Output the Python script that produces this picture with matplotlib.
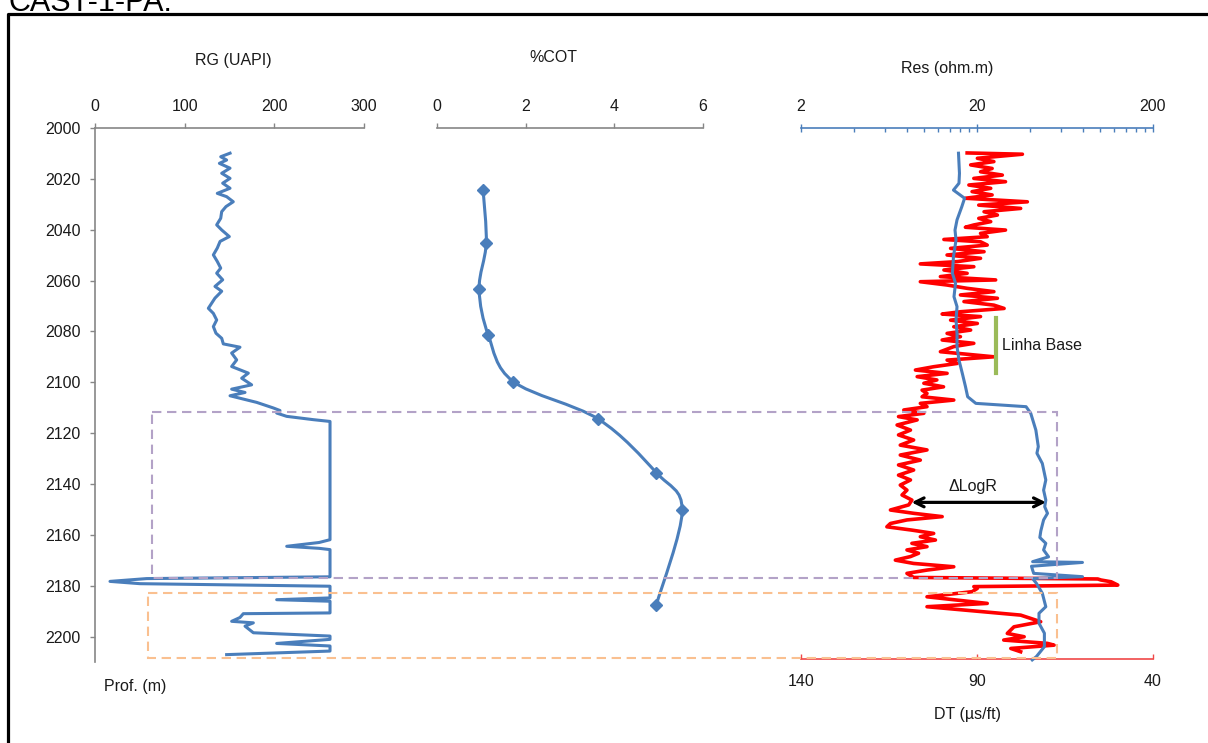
import matplotlib
matplotlib.use("Agg")
import matplotlib.pyplot as plt
from matplotlib.path import Path
from matplotlib.patches import PathPatch, Rectangle
from matplotlib.lines import Line2D
from matplotlib.transforms import blended_transform_factory
from matplotlib.ticker import FixedLocator, FixedFormatter, NullFormatter

plt.rcParams["font.family"] = ["Liberation Sans", "DejaVu Sans"]

# ---------------- data ----------------
# Gamma ray (UAPI) versus depth (m)
rg_depth = [2009.9, 2011.3, 2012.6, 2013.9, 2015.8, 2017.8, 2019.8, 2021.7, 2023.7, 2025.7,
            2027.0, 2029.0, 2030.9, 2032.9, 2035.5, 2038.1, 2040.1, 2042.7, 2044.6, 2047.2,
            2049.9, 2052.5, 2055.1, 2057.1, 2059.7, 2062.3, 2064.2, 2066.9, 2068.9, 2070.9,
            2072.9, 2075.5, 2078.1, 2080.7, 2082.7, 2084.9, 2086.2, 2088.5, 2091.2, 2093.8,
            2096.4, 2098.4, 2101.0, 2102.7, 2104.0, 2105.3, 2106.6, 2107.9, 2110.1, 2111.1,
            2112.1, 2113.4, 2114.7, 2115.4, 2161.9, 2163.0, 2164.5, 2165.3, 2165.8, 2176.5,
            2177.2, 2178.3, 2179.2, 2180.2, 2184.8, 2185.5, 2186.1, 2190.7, 2191.0, 2192.5,
            2194.0, 2194.6, 2195.9, 2198.5, 2199.8, 2201.1, 2202.7, 2203.7, 2205.7, 2207.1]
rg_value = [150.6, 140.2, 146.8, 138.7, 150.6, 141.3, 150.6, 142.4, 150.6, 136.4,
            146.8, 154.2, 146.1, 141.3, 140.2, 135.7, 141.3, 149.8, 139.5, 136.4,
            132.0, 136.4, 140.2, 135.7, 142.4, 133.8, 141.3, 133.8, 130.1, 126.4,
            132.0, 135.7, 132.0, 134.9, 141.3, 143.1, 161.7, 152.4, 158.0, 152.4,
            171.0, 163.6, 174.7, 152.4, 167.3, 150.6, 165.4, 180.3, 198.9, 206.3,
            202.6, 213.8, 243.5, 262.1, 262.1, 250.0, 213.8, 250.0, 262.1, 262.1,
            57.6, 16.7, 50.2, 262.1, 262.1, 202.6, 262.1, 262.1, 165.4, 161.7,
            152.4, 176.6, 167.3, 176.6, 262.1, 262.1, 202.6, 262.1, 262.1, 146.8]

# Total organic carbon (%) from samples
cot_depth = [2024.4, 2045.3, 2063.3, 2081.6, 2099.7, 2114.5, 2135.6, 2150.4, 2187.4]
cot_value = [1.04, 1.11, 0.95, 1.16, 1.72, 3.64, 4.95, 5.53, 4.95]

# Resistivity (ohm.m)
res_depth = [2009.9, 2017.8, 2021.7, 2024.4, 2027.6, 2030.9, 2036.1, 2040.1, 2044.0, 2050.6,
             2057.1, 2061.0, 2066.3, 2070.2, 2075.5, 2080.7, 2085.9, 2091.2, 2096.4, 2101.6,
             2105.6, 2108.2, 2109.5, 2112.1, 2118.7, 2125.2, 2127.8, 2131.8, 2138.3, 2142.3,
             2146.2, 2148.8, 2151.4, 2154.0, 2158.3, 2160.9, 2163.2, 2165.8, 2168.5, 2170.4,
             2170.7, 2172.2, 2173.7, 2175.0, 2176.3, 2177.0, 2177.6, 2178.9, 2182.8, 2188.1,
             2190.7, 2194.6, 2198.5, 2203.8, 2207.7, 2209.0]
res_value = [15.7, 15.9, 15.8, 14.7, 17.0, 16.4, 15.4, 15.0, 15.2, 14.7,
             14.5, 15.1, 14.8, 15.4, 15.2, 15.4, 15.4, 15.8, 16.5, 17.2,
             17.7, 19.7, 38.0, 40.4, 43.2, 44.6, 43.8, 47.0, 49.2, 47.8,
             49.2, 48.5, 50.3, 47.8, 46.1, 45.5, 49.2, 47.8, 51.0, 41.4,
             79.5, 40.8, 41.4, 42.0, 79.5, 41.4, 42.0, 43.5, 47.0, 49.2,
             45.0, 45.0, 48.3, 48.3, 43.5, 41.2]

# Sonic transit time (us/ft)
dt_depth = [2009.8, 2010.3, 2011.9, 2013.2, 2014.5, 2015.9, 2017.2, 2018.5, 2019.8, 2021.1,
            2022.4, 2023.7, 2025.0, 2026.3, 2027.6, 2029.0, 2030.3, 2031.6, 2032.9, 2034.2,
            2035.5, 2036.8, 2038.1, 2039.0, 2040.1, 2041.4, 2042.7, 2043.8, 2044.7, 2046.0,
            2047.3, 2048.6, 2049.9, 2051.2, 2052.5, 2053.4, 2054.5, 2055.8, 2057.1, 2058.4,
            2059.7, 2060.4, 2061.7, 2063.0, 2064.3, 2065.6, 2066.9, 2068.2, 2069.6, 2070.9,
            2072.2, 2073.1, 2074.1, 2075.5, 2076.8, 2078.1, 2079.4, 2080.7, 2082.0, 2083.3,
            2084.6, 2085.9, 2087.9, 2089.9, 2091.2, 2092.5, 2093.8, 2095.1, 2096.4, 2097.7,
            2099.0, 2100.3, 2101.7, 2103.0, 2104.3, 2105.6, 2106.9, 2108.2, 2109.5, 2110.8,
            2112.1, 2113.4, 2114.7, 2116.7, 2118.7, 2120.6, 2122.6, 2124.6, 2126.5, 2128.5,
            2130.5, 2132.4, 2134.4, 2136.4, 2138.3, 2140.3, 2142.3, 2144.2, 2146.2, 2148.1,
            2150.1, 2151.4, 2152.7, 2154.0, 2155.4, 2156.7, 2158.0, 2159.3, 2160.6, 2161.9,
            2163.2, 2164.5, 2165.8, 2167.1, 2168.4, 2169.8, 2171.1, 2172.4, 2173.7, 2175.0,
            2176.6, 2177.2, 2177.6, 2178.3, 2179.6, 2180.2, 2180.9, 2182.2, 2184.2, 2186.8,
            2188.1, 2189.4, 2191.4, 2194.0, 2196.0, 2198.6, 2199.9, 2201.2, 2202.5, 2203.2,
            2204.5, 2205.8]
dt_value = [92.8, 77.1, 89.9, 85.2, 91.8, 85.7, 89.0, 82.8, 90.9, 81.9,
            92.3, 86.1, 91.4, 85.7, 93.3, 75.7, 89.5, 77.6, 88.0, 84.2,
            89.5, 86.1, 90.9, 93.3, 81.9, 89.0, 87.1, 99.4, 89.0, 87.1,
            97.5, 88.0, 98.5, 89.0, 95.6, 106.1, 90.9, 99.4, 92.8, 100.4,
            84.7, 106.1, 98.5, 92.8, 85.2, 94.7, 84.2, 93.7, 85.2, 82.3,
            94.7, 99.9, 89.0, 97.5, 89.9, 96.6, 91.8, 98.5, 94.7, 99.9,
            90.9, 96.6, 100.4, 85.2, 98.5, 95.6, 102.3, 107.5, 98.5, 107.0,
            101.4, 105.1, 99.5, 105.6, 104.2, 105.6, 96.6, 106.1, 104.2, 110.8,
            105.1, 112.3, 107.0, 112.7, 108.9, 112.3, 108.0, 111.8, 104.2, 111.8,
            106.1, 112.3, 108.0, 112.3, 108.9, 111.8, 109.9, 111.3, 108.5, 109.4,
            114.6, 108.0, 99.9, 109.9, 114.6, 115.6, 108.5, 102.3, 106.1, 101.8,
            108.5, 104.2, 109.9, 106.6, 108.9, 113.2, 108.0, 96.6, 104.2, 109.9,
            108.0, 55.7, 54.8, 51.9, 50.0, 90.9, 89.9, 91.4, 104.2, 87.1,
            104.2, 93.7, 77.6, 71.9, 79.5, 81.4, 76.6, 82.4, 70.0, 68.1,
            80.4, 77.6]

rg_ticks = [0, 100, 200, 300]
cot_ticks = [0, 2, 4, 6]
res_ticks = [2, 20, 200]
res_minor_ticks = [4, 6, 8, 10, 12, 14, 16, 18, 40, 60, 80, 100, 120, 140, 160, 180]
dt_ticks = [140, 90, 40]
depth_ticks = list(range(2000, 2201, 20))

# zones (depth, m) and interpretation marks
zone_upper = (2111.6, 2176.8)
zone_lower = (2182.7, 2208.3)
baseline_res = 25.5
baseline_depth = (2074.7, 2096.3)
dlogr_depth = 2147.1
dlogr_res = (8.5, 49.3)

# ---------------- styles ----------------
BLUE = "#4A7EBB"
RED = "#FF0000"
GREY = "#868686"
TXT = "#1a1a1a"
FS = 11.5

W, H = 1208, 743
fig = plt.figure(figsize=(W / 100, H / 100), dpi=100)


def box(x0, x1, y0, y1):
    return [x0 / W, 1 - y1 / H, (x1 - x0) / W, (y1 - y0) / H]


def hide_spines(ax, keep):
    for name, sp in ax.spines.items():
        sp.set_visible(name in keep)


# --- gamma ray track (also carries the depth axis)
ax_rg = fig.add_axes(box(95, 364, 128, 662))
ax_rg.set_xlim(0, 300)
ax_rg.set_ylim(2210, 2000)
hide_spines(ax_rg, ("top", "left"))
for s in ("top", "left"):
    ax_rg.spines[s].set_color(GREY)
    ax_rg.spines[s].set_linewidth(1.2)
ax_rg.xaxis.tick_top()
ax_rg.set_xticks(rg_ticks)
ax_rg.set_yticks(depth_ticks)
ax_rg.tick_params(axis="x", direction="out", length=3.6, width=1.0, color=GREY,
                  labelsize=FS, labelcolor=TXT, pad=6.5)
ax_rg.tick_params(axis="y", direction="out", length=3.6, width=1.0, color=GREY,
                  labelsize=FS, labelcolor=TXT, pad=6.5)
ax_rg.patch.set_visible(False)
ax_rg.plot(rg_value, rg_depth, color=BLUE, lw=2.2, solid_joinstyle="round", clip_on=False)

# --- organic carbon track
ax_cot = fig.add_axes(box(437, 703, 128, 662))
ax_cot.set_xlim(0, 6)
ax_cot.set_ylim(2210, 2000)
hide_spines(ax_cot, ("top",))
ax_cot.spines["top"].set_color(GREY)
ax_cot.spines["top"].set_linewidth(1.2)
ax_cot.xaxis.tick_top()
ax_cot.set_xticks(cot_ticks)
ax_cot.set_yticks([])
ax_cot.tick_params(axis="x", direction="out", length=3.6, width=1.0, color=GREY,
                   labelsize=FS, labelcolor=TXT, pad=6.5)
ax_cot.patch.set_visible(False)


def smooth_path(xs, ys):
    """Smoothed line through the samples as cubic Bezier segments."""
    pts = list(zip(xs, ys))
    verts = [pts[0]]
    codes = [Path.MOVETO]
    n = len(pts)
    for i in range(n - 1):
        p0 = pts[i - 1] if i > 0 else pts[i]
        p1 = pts[i]
        p2 = pts[i + 1]
        p3 = pts[i + 2] if i + 2 < n else pts[i + 1]
        c1 = (p1[0] + (p2[0] - p0[0]) / 6, p1[1] + (p2[1] - p0[1]) / 6)
        c2 = (p2[0] - (p3[0] - p1[0]) / 6, p2[1] - (p3[1] - p1[1]) / 6)
        verts += [c1, c2, p2]
        codes += [Path.CURVE4] * 3
    return Path(verts, codes)


ax_cot.add_patch(PathPatch(smooth_path(cot_value, cot_depth), fill=False,
                           edgecolor=BLUE, lw=2.2))
ax_cot.plot(cot_value, cot_depth, linestyle="none", marker="D", ms=6,
            color=BLUE, mec=BLUE)

# --- resistivity / sonic track
ax_res = fig.add_axes(box(801, 1153, 128, 659))
ax_res.set_xscale("log")
ax_res.set_xlim(2, 200)
ax_res.set_ylim(2000 + 531 / 2.545, 2000)
ax_dt = ax_res.twiny()
ax_dt.set_xlim(140, 40)
ax_dt.set_ylim(2000 + 531 / 2.545, 2000)

hide_spines(ax_res, ("top",))
ax_res.spines["top"].set_color(BLUE)
ax_res.spines["top"].set_linewidth(1.2)
ax_res.xaxis.tick_top()
ax_res.xaxis.set_major_locator(FixedLocator(res_ticks))
ax_res.xaxis.set_major_formatter(FixedFormatter([str(t) for t in res_ticks]))
ax_res.xaxis.set_minor_locator(FixedLocator(res_minor_ticks))
ax_res.xaxis.set_minor_formatter(NullFormatter())
ax_res.set_yticks([])
ax_res.tick_params(axis="x", which="major", direction="inout", length=5.5, width=1.0,
                   color=BLUE, labelsize=FS, labelcolor=TXT, pad=7.3)
ax_res.tick_params(axis="x", which="minor", direction="in", length=2.6, width=1.0,
                   color=BLUE)

hide_spines(ax_dt, ("bottom",))
ax_dt.spines["bottom"].set_color("#F04848")
ax_dt.spines["bottom"].set_linewidth(1.2)
ax_dt.xaxis.set_ticks_position("bottom")
ax_dt.xaxis.set_label_position("bottom")
ax_dt.set_xticks(dt_ticks)
ax_dt.set_yticks([])
ax_dt.tick_params(axis="x", direction="in", length=3.6, width=1.0, color="#F04848",
                  labelsize=FS, labelcolor=TXT, pad=11)

ax_dt.plot(dt_value, dt_depth, color=RED, lw=2.6, solid_joinstyle="round")
ax_res.set_zorder(ax_dt.get_zorder() + 1)
ax_res.patch.set_visible(False)
ax_dt.patch.set_visible(False)
ax_res.plot(res_value, res_depth, color=BLUE, lw=2.2, solid_joinstyle="round", clip_on=False)

# baseline marker and delta log R arrow
ax_res.plot([baseline_res, baseline_res], list(baseline_depth), color="#9BBB59", lw=3)
ax_res.annotate("", xy=(dlogr_res[0], dlogr_depth), xytext=(dlogr_res[1], dlogr_depth),
                arrowprops=dict(arrowstyle="<->", lw=2.3, color="black",
                                mutation_scale=16, shrinkA=0, shrinkB=0))

# --- zone boxes spanning all tracks
tr = blended_transform_factory(fig.transFigure, ax_rg.transData)
fig.add_artist(Rectangle((152 / W, zone_upper[0]), (1057 - 152) / W,
                         zone_upper[1] - zone_upper[0], transform=tr, fill=False,
                         edgecolor="#B3A2C7", lw=1.5, linestyle=(0, (4.5, 2.7)), zorder=5))
fig.add_artist(Rectangle((148 / W, zone_lower[0]), (1057 - 148) / W,
                         zone_lower[1] - zone_lower[0], transform=tr, fill=False,
                         edgecolor="#FAC090", lw=1.5, linestyle=(0, (4.5, 2.7)), zorder=5))


# --- labels
def ftext(x, y, s, **kw):
    fig.text(x / W, 1 - y / H, s, fontsize=FS, color=TXT, **kw)


ftext(233, 60, "RG (UAPI)", ha="center", va="center")
ftext(553, 58, "%COT", ha="center", va="center")
ftext(947, 68, "Res (ohm.m)", ha="center", va="center")
ftext(104, 686, "Prof. (m)", ha="left", va="center")
ftext(967, 714, "DT (µs/ft)", ha="center", va="center")
ftext(1002, 346, "Linha Base", ha="left", va="center")
ftext(973, 487, "ΔLogR", ha="center", va="center")

# page title (runs off the top edge) and frame
fig.text(8 / W, 1 - 11 / H, "CAST-1-PA:", fontsize=22, color="black", ha="left", va="baseline")
fig.add_artist(Line2D([8 / W, 8 / W, 1.02], [-0.02, 1 - 14 / H, 1 - 14 / H],
                      transform=fig.transFigure, color="black", lw=2.3))

fig.savefig("out.png", dpi=100)
